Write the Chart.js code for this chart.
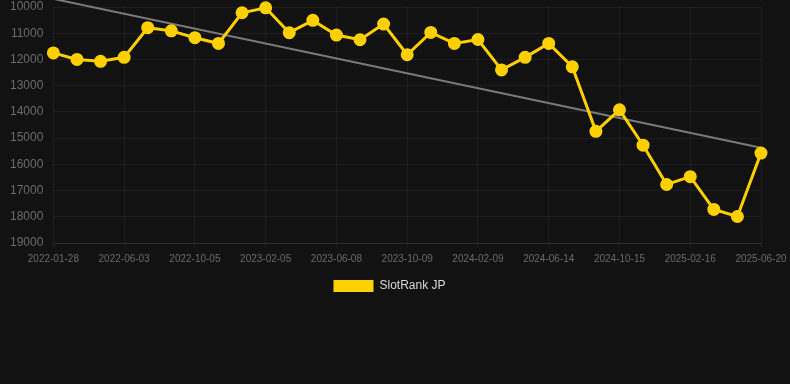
<!DOCTYPE html>
<html>
<head>
<meta charset="utf-8">
<script src="https://cdn.jsdelivr.net/npm/chart.js@4/dist/chart.umd.min.js"></script>
<style>
  html, body { margin: 0; padding: 0; background: #121212; }
  #wrap { width: 790px; height: 384px; background: #121212; }
  #wrap .box { width: 790px; height: 302px; position: relative; }
</style>
</head>
<body>
<div id="wrap"><div class="box"><canvas id="rankChart"></canvas></div></div>
<script>
const dates = [
  '2022-01-28', '2022-03-11', '2022-04-22', '2022-06-03', '2022-07-15', '2022-08-24',
  '2022-10-05', '2022-11-15', '2022-12-26', '2023-02-05', '2023-03-18', '2023-04-28',
  '2023-06-08', '2023-07-19', '2023-08-29', '2023-10-09', '2023-11-19', '2023-12-30',
  '2024-02-09', '2024-03-22', '2024-05-03', '2024-06-14', '2024-07-25', '2024-09-04',
  '2024-10-15', '2024-11-25', '2025-01-06', '2025-02-16', '2025-03-29', '2025-05-10',
  '2025-06-20'
];

const rank = [
  11750, 12000, 12070, 11920, 10790, 10910, 11170, 11390, 10220, 10030, 10980,
  10510, 11070, 11250, 10650, 11820, 10970, 11390, 11240, 12400, 11920, 11390,
  12280, 14740, 13920, 15270, 16770, 16470, 17720, 17990, 15570
];

// trend line end points (regression drawn as straight segment)
const trendStart = 9690;
const trendEnd = 15370;
const trend = dates.map((d, i) => i === 0 ? trendStart : (i === dates.length - 1 ? trendEnd : null));

const yTicks = [10000, 11000, 12000, 13000, 14000, 15000, 16000, 17000, 18000, 19000];

Chart.defaults.font.family = 'Arial, "Liberation Sans", Helvetica, sans-serif';

new Chart(document.getElementById('rankChart'), {
  type: 'line',
  data: {
    labels: dates,
    datasets: [
      {
        label: 'SlotRank JP',
        data: rank,
        borderColor: '#FFD000',
        backgroundColor: '#FFD000',
        borderWidth: 3,
        pointRadius: 5,
        pointHoverRadius: 6,
        pointBackgroundColor: '#FFD000',
        pointBorderColor: '#FFD000',
        tension: 0,
        clip: false,
        order: 1
      },
      {
        label: 'trend',
        data: trend,
        borderColor: '#7a7a7a',
        borderWidth: 2,
        pointRadius: 0,
        spanGaps: true,
        clip: false,
        order: 2
      }
    ]
  },
  options: {
    responsive: true,
    maintainAspectRatio: false,
    animation: false,
    layout: { autoPadding: false, padding: { top: 0, left: 0, right: 11, bottom: 0 } },
    scales: {
      x: {
        grid: { color: 'rgba(255,255,255,0.05)', tickLength: 4 },
        border: { color: 'rgba(255,255,255,0.08)' },
        afterFit: (axis) => { axis.paddingRight = 29; },
        ticks: {
          color: '#6b6b6b',
          font: { size: 10 },
          padding: 6,
          maxRotation: 0,
          autoSkip: true,
          callback: function (v, i) { return i % 3 === 0 ? dates[i] : null; }
        }
      },
      y: {
        reverse: true,
        min: 10000,
        max: 19000,
        afterBuildTicks: (axis) => { axis.ticks = yTicks.map(v => ({ value: v })); },
        afterFit: (axis) => { axis.paddingTop = 7; axis.paddingBottom = 0; },
        grid: { color: 'rgba(255,255,255,0.05)', drawTicks: false },
        border: { display: false },
        ticks: {
          color: '#6b6b6b',
          font: { size: 12 },
          padding: 10,
          callback: (v) => String(v)
        }
      }
    },
    plugins: {
      legend: {
        position: 'bottom',
        labels: {
          color: '#d8d8d8',
          font: { size: 12 },
          boxWidth: 40,
          boxHeight: 12,
          padding: 9,
          filter: (item) => item.text !== 'trend',
          generateLabels: (chart) => {
            const items = Chart.defaults.plugins.legend.labels.generateLabels(chart);
            items.forEach(it => { it.lineWidth = 0; it.strokeStyle = 'transparent'; });
            return items;
          }
        }
      },
      tooltip: { enabled: false }
    }
  }
});
</script>
</body>
</html>
